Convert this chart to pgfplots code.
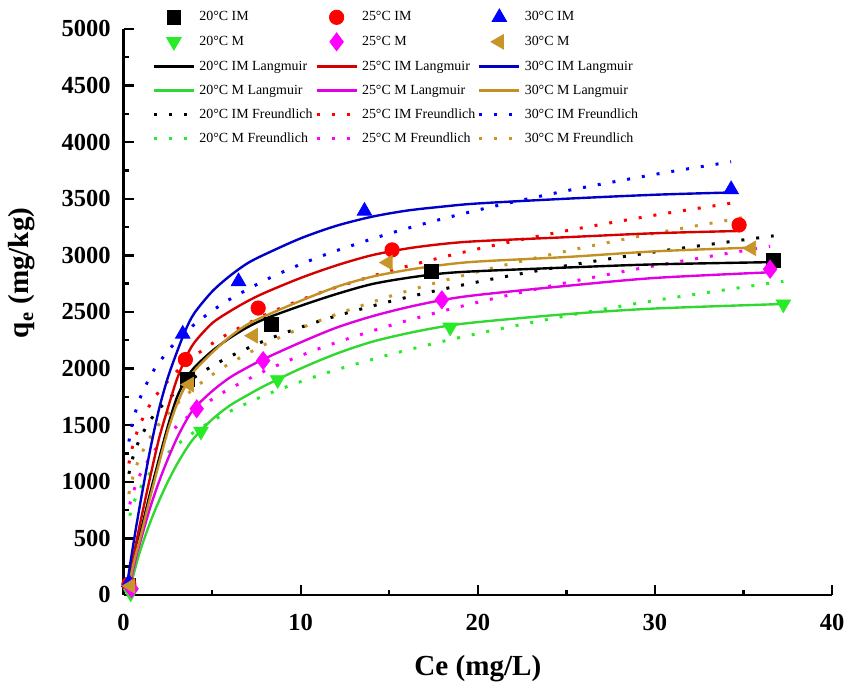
\documentclass[border=0pt]{standalone}
\usepackage{fontspec}
\setmainfont{Liberation Serif}
\usepackage{pgfplots}
\pgfplotsset{compat=1.18}
\definecolor{cred}{RGB}{255,0,0}
\definecolor{cblue}{RGB}{0,0,255}
\definecolor{cgreen}{RGB}{40,235,40}
\definecolor{cmag}{RGB}{255,0,255}
\definecolor{cgold}{RGB}{200,150,40}
\definecolor{lred}{RGB}{215,0,0}
\definecolor{lblue}{RGB}{0,0,200}
\definecolor{lgreen}{RGB}{50,215,50}
\definecolor{lmag}{RGB}{225,0,225}
\definecolor{lgold}{RGB}{195,145,35}
\pgfplotsset{
  lineleg/.style={legend image code/.code={\draw[##1] (0pt,0pt) -- (20pt,0pt);}},
  markleg/.style={legend image code/.code={\draw[##1] plot coordinates {(10pt,0pt)};}},
  lang/.style={line width=1.2pt, smooth, no markers, forget plot},
  freu/.style={line width=1.5pt, dash pattern=on 1.5pt off 6pt, smooth, no markers, forget plot},
  pts/.style={only marks, forget plot},
}
\begin{document}
\begin{tikzpicture}
\path (-62pt,-43pt) rectangle (363.5pt,298.5pt);
\begin{axis}[
  name=ax,
  scale only axis, width=355.5pt, height=284pt,
  xmin=0, xmax=40, ymin=0, ymax=5000,
  axis lines*=left,
  axis line style={line width=1.3pt},
  xtick={0,10,20,30,40}, ytick={0,500,...,5000},
  minor tick num=1,
  tick align=inside,
  major tick length=5pt, minor tick length=2.5pt,
  tick style={line width=1.2pt, black},
  /pgf/number format/assume math mode=true,
  /pgf/number format/1000 sep={},
  ticklabel style={font=\fontsize{12.3}{13}\selectfont\bfseries},
  xticklabel style={yshift=-6pt},
  yticklabel style={xshift=-3pt},
  xlabel={Ce (mg/L)},
  ylabel={q\textsubscript{e} (mg/kg)},
  label style={font=\fontsize{14.6}{16}\selectfont\bfseries},
  xlabel style={at={(axis description cs:0.5,-0.131)}, anchor=center},
  ylabel style={at={(axis description cs:-0.1435,0.569)}, anchor=center, rotate=0},
  clip=false,
  legend columns=3,
  legend cell align=left,
  legend style={at={(axis description cs:0.0408,1.0358)}, anchor=north west,
    draw=none, fill=none, inner sep=0pt, outer sep=0pt,
    font=\fontsize{7}{8}\selectfont,
    nodes={text height=5.2pt, text depth=1.5pt, inner sep=1pt},
    row sep=3.45pt,
    /tikz/every odd column/.append style={column sep=1pt},
    /tikz/every even column/.append style={column sep=0.3pt}},
]
% legend images
\addlegendimage{only marks, mark=square*, mark size=3.5pt, black, markleg}
\addlegendentry{20°C IM}
\addlegendimage{only marks, mark=*, mark size=3.6pt, cred, markleg}
\addlegendentry{25°C IM}
\addlegendimage{only marks, mark=triangle*, mark size=4.2pt, cblue, markleg}
\addlegendentry{30°C IM}
\addlegendimage{only marks, mark=triangle*, mark size=4.2pt, mark options={rotate=180}, cgreen, markleg}
\addlegendentry{20°C M}
\addlegendimage{only marks, mark=diamond*, mark size=4.5pt, cmag, markleg}
\addlegendentry{25°C M}
\addlegendimage{only marks, mark=triangle*, mark size=4.2pt, mark options={rotate=90}, cgold, markleg}
\addlegendentry{30°C M}
\addlegendimage{black, line width=1.2pt, lineleg}
\addlegendentry{20°C IM Langmuir}
\addlegendimage{lred, line width=1.2pt, lineleg}
\addlegendentry{25°C IM Langmuir}
\addlegendimage{lblue, line width=1.2pt, lineleg}
\addlegendentry{30°C IM Langmuir}
\addlegendimage{lgreen, line width=1.2pt, lineleg}
\addlegendentry{20°C M Langmuir}
\addlegendimage{lmag, line width=1.2pt, lineleg}
\addlegendentry{25°C M Langmuir}
\addlegendimage{lgold, line width=1.2pt, lineleg}
\addlegendentry{30°C M Langmuir}
\addlegendimage{black, line width=1.5pt, dash pattern=on 1.5pt off 6pt, lineleg}
\addlegendentry{20°C IM Freundlich}
\addlegendimage{cred, line width=1.5pt, dash pattern=on 1.5pt off 6pt, lineleg}
\addlegendentry{25°C IM Freundlich}
\addlegendimage{cblue, line width=1.5pt, dash pattern=on 1.5pt off 6pt, lineleg}
\addlegendentry{30°C IM Freundlich}
\addlegendimage{cgreen, line width=1.5pt, dash pattern=on 1.5pt off 6pt, lineleg}
\addlegendentry{20°C M Freundlich}
\addlegendimage{cmag, line width=1.5pt, dash pattern=on 1.5pt off 6pt, lineleg}
\addlegendentry{25°C M Freundlich}
\addlegendimage{cgold, line width=1.5pt, dash pattern=on 1.5pt off 6pt, lineleg}
\addlegendentry{30°C M Freundlich}

% Freundlich (dotted)
\addplot[freu, black] coordinates {(0.3,1070)(0.5,1201)(0.75,1316)(1,1405)(1.5,1540)(2,1643)(3,1801)(4,1922)(5,2021)(6,2106)(8,2248)(10,2364)(12,2464)(15,2591)(18,2700)(21,2796)(25,2908)(30,3030)(36.7,3172)};
\addplot[freu, cred] coordinates {(0.3,1161)(0.5,1306)(0.75,1434)(1,1532)(1.5,1682)(2,1797)(3,1974)(4,2109)(5,2220)(6,2315)(8,2474)(10,2605)(12,2717)(15,2860)(18,2983)(21,3091)(25,3217)(30,3355)(34.75,3471)};
\addplot[freu, cblue] coordinates {(0.3,1355)(0.5,1516)(0.75,1656)(1,1764)(1.5,1928)(2,2053)(3,2244)(4,2390)(5,2509)(6,2612)(8,2781)(10,2921)(12,3040)(15,3192)(18,3322)(21,3436)(25,3570)(30,3715)(34.3,3826)};
\addplot[freu, cgreen] coordinates {(0.35,700)(0.5,783)(0.75,881)(1,959)(1.5,1080)(2,1175)(3,1324)(4,1440)(5,1537)(6,1622)(8,1765)(10,1884)(12,1988)(15,2122)(18,2239)(21,2342)(25,2465)(30,2601)(37.25,2771)};
\addplot[freu, cmag] coordinates {(0.35,800)(0.5,886)(0.75,996)(1,1083)(1.5,1218)(2,1325)(3,1490)(4,1620)(5,1728)(6,1822)(8,1981)(10,2114)(12,2229)(15,2378)(18,2507)(21,2622)(25,2758)(30,2908)(36.5,3079)};
\addplot[freu, cgold] coordinates {(0.3,891)(0.5,1026)(0.75,1149)(1,1244)(1.5,1392)(2,1508)(3,1687)(4,1827)(5,1944)(6,2045)(8,2214)(10,2356)(12,2478)(15,2636)(18,2773)(21,2894)(25,3037)(30,3195)(35.45,3346)};

% Langmuir (solid)
\addplot[lang, black] coordinates {(0.2,70)(0.6,323)(1,580)(1.5,900)(2,1200)(2.5,1490)(3,1740)(3.5,1900)(4,2010)(5,2155)(6,2270)(7,2365)(8,2440)(10,2554)(12,2657)(14,2745)(16,2800)(18,2840)(20,2860)(25,2892)(30,2920)(36.7,2940)};
\addplot[lang, lred] coordinates {(0.2,80)(0.5,300)(1,680)(1.5,1040)(2,1380)(2.5,1650)(3,1900)(3.5,2090)(4,2230)(5,2400)(6,2505)(7,2595)(8,2671)(10,2800)(12,2910)(14,3000)(16,3060)(18,3100)(20,3125)(25,3160)(30,3195)(34.75,3215)};
\addplot[lang, lblue] coordinates {(0.2,90)(0.4,300)(0.7,590)(1,860)(1.5,1280)(2,1640)(2.5,1920)(3,2140)(3.5,2340)(4,2490)(5,2680)(6,2818)(7,2930)(8,3010)(10,3150)(12,3260)(14,3340)(16,3395)(18,3430)(20,3458)(25,3500)(30,3535)(34.3,3555)};
\addplot[lang, lgreen] coordinates {(0.3,20)(0.8,320)(1,420)(1.5,640)(2,830)(2.5,1000)(3,1150)(3.5,1280)(4,1390)(5,1550)(6,1673)(7,1765)(8,1850)(10,2000)(12,2130)(14,2235)(16,2310)(18,2370)(20,2410)(25,2480)(30,2530)(37.25,2570)};
\addplot[lang, lmag] coordinates {(0.3,60)(0.7,330)(1,500)(1.5,770)(2,1000)(2.5,1200)(3,1380)(3.5,1530)(4,1650)(5,1800)(6,1920)(7,2010)(8,2090)(10,2231)(12,2360)(14,2460)(16,2540)(18,2605)(20,2650)(25,2730)(30,2800)(36.5,2850)};
\addplot[lang, lgold] coordinates {(0.3,80)(0.6,300)(1,540)(1.5,860)(2,1160)(2.5,1450)(3,1680)(3.5,1850)(4,1980)(5,2140)(6,2280)(7,2390)(8,2465)(10,2598)(12,2720)(14,2810)(16,2870)(18,2915)(20,2945)(25,2985)(30,3035)(35.45,3068)};

% data points
\addplot[pts, mark=square*, mark size=3.5pt, black] coordinates {(0.3,85)(3.6,1900)(8.37,2387)(17.4,2862)(36.7,2957)};
\addplot[pts, mark=*, mark size=3.6pt, cred] coordinates {(0.3,95)(3.49,2079)(7.6,2534)(15.16,3048)(34.75,3268)};
\addplot[pts, mark=triangle*, mark size=4.2pt, cblue] coordinates {(0.3,110)(3.34,2305)(6.49,2769)(13.6,3391)(34.3,3582)};
\addplot[pts, mark=triangle*, mark size=4.2pt, mark options={rotate=180}, cgreen] coordinates {(0.4,15)(4.37,1445)(8.7,1900)(18.44,2364)(37.25,2569)};
\addplot[pts, mark=diamond*, mark size=4.5pt, cmag] coordinates {(0.45,55)(4.13,1644)(7.88,2070)(17.97,2607)(36.5,2877)};
\addplot[pts, mark=triangle*, mark size=4.2pt, mark options={rotate=90}, cgold] coordinates {(0.4,80)(3.71,1858)(7.32,2290)(14.93,2936)(35.45,3062)};
\end{axis}
\end{tikzpicture}
\end{document}
